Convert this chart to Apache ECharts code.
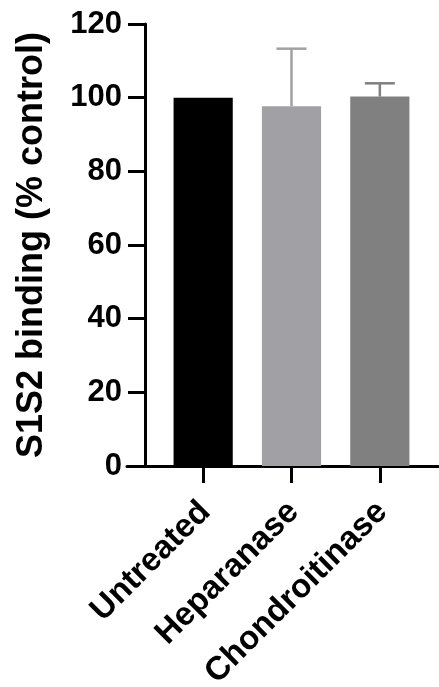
<!DOCTYPE html>
<html>
<head>
<meta charset="utf-8">
<script src="https://cdn.jsdelivr.net/npm/echarts@6/dist/echarts.min.js"></script>
<style>
  html, body { margin: 0; padding: 0; background: #fff; }
  #chart { width: 439px; height: 687px; }
</style>
</head>
<body>
<div id="chart"></div>
<script>
const categories = ['Untreated', 'Heparanase', 'Chondroitinase'];
const means = [100, 97.7, 100.3];
const errUpper = [0, 15.6, 3.6];
const barColors = ['#000000', '#a1a1a5', '#808080'];
const yMin = 0, yMax = 120, yInterval = 20;
const yTitle = 'S1S2 binding (% control)';

const FONT = 'Liberation Sans, Arial, sans-serif';
const chart = echarts.init(document.getElementById('chart'), null, { renderer: 'canvas' });

const option = {
  backgroundColor: '#ffffff',
  animation: false,
  grid: [
    { left: 159, right: 15, top: 24, bottom: 221, containLabel: false, outerBoundsMode: 'none' },
    { left: 127, right: 1, top: 24, bottom: 221, containLabel: false, outerBoundsMode: 'none' }
  ],
  xAxis: [
    {
      type: 'category', gridIndex: 0, data: categories,
      axisLine: { show: false },
      axisTick: { show: true, alignWithLabel: true, length: 17, lineStyle: { color: '#000', width: 3 } },
      axisLabel: { rotate: 45, margin: 43, padding: [0, -3, 0, 0], color: '#000', fontFamily: FONT, fontWeight: 'bold', fontSize: 33, interval: 0 }
    },
    {
      type: 'value', gridIndex: 1, min: 0, max: 1,
      axisLine: { show: true, lineStyle: { color: '#000', width: 3 } },
      axisTick: { show: false }, axisLabel: { show: false }, splitLine: { show: false }
    }
  ],
  yAxis: [
    {
      type: 'value', gridIndex: 0, min: yMin, max: yMax, interval: yInterval, offset: 14,
      name: yTitle, nameLocation: 'middle', nameGap: 95,
      nameTextStyle: { color: '#000', fontFamily: FONT, fontWeight: 'bold', fontSize: 36 },
      axisLine: { show: true, lineStyle: { color: '#000', width: 3 } },
      axisTick: { show: true, length: 17, lineStyle: { color: '#000', width: 3 } },
      axisLabel: { margin: 23, color: '#000', fontFamily: FONT, fontWeight: 'bold', fontSize: 31 },
      splitLine: { show: false }
    },
    { type: 'value', gridIndex: 1, show: false, min: 0, max: 1 }
  ],
  series: [
    {
      type: 'bar', xAxisIndex: 0, yAxisIndex: 0,
      barCategoryGap: '33%',
      data: means.map((v, i) => ({ value: v, itemStyle: { color: barColors[i] } }))
    },
    {
      type: 'custom', xAxisIndex: 0, yAxisIndex: 0, z: 1,
      data: means.map((v, i) => [i, v, v + errUpper[i]]),
      renderItem: function (params, api) {
        const i = api.value(0);
        if (errUpper[i] <= 0) return null;
        const base = api.coord([i, api.value(1)]);
        const top = api.coord([i, api.value(2)]);
        const half = api.size([1, 0])[0] * 0.17;
        const style = { stroke: barColors[i], lineWidth: 2.5 };
        return {
          type: 'group',
          children: [
            { type: 'line', shape: { x1: base[0], y1: base[1], x2: top[0], y2: top[1] }, style: style },
            { type: 'line', shape: { x1: top[0] - half, y1: top[1], x2: top[0] + half, y2: top[1] }, style: style }
          ]
        };
      }
    }
  ]
};
chart.setOption(option);
</script>
</body>
</html>
